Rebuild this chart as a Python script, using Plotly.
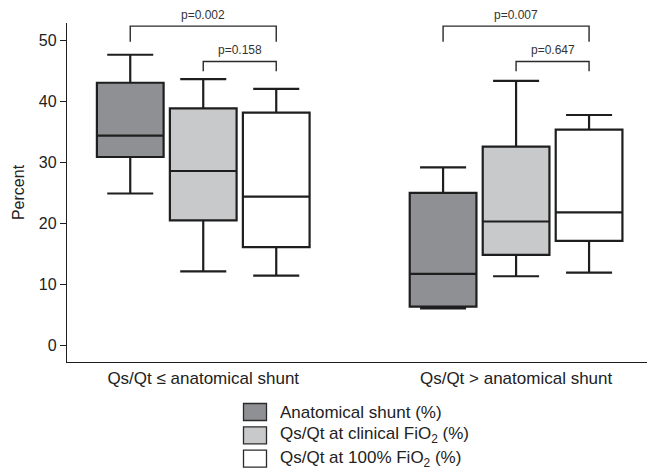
import plotly.graph_objects as go

# ---------------- data ----------------
categories = ["Qs/Qt ≤ anatomical shunt", "Qs/Qt > anatomical shunt"]
series_names = ["Anatomical shunt (%)",
                "Qs/Qt at clinical FiO<sub>2</sub> (%)",
                "Qs/Qt at 100% FiO<sub>2</sub> (%)"]
series_colors = ["#8f9094", "#c8c9cb", "#ffffff"]

# per series: values for [group1, group2]
lower_whisker = [[24.9, 6.0], [12.1, 11.3], [11.4, 11.9]]
q1_values     = [[30.9, 6.3], [20.5, 14.8], [16.1, 17.1]]
medians       = [[34.4, 11.7], [28.6, 20.3], [24.4, 21.8]]
q3_values     = [[43.1, 25.0], [38.9, 32.6], [38.2, 35.4]]
upper_whisker = [[47.7, 29.2], [43.7, 43.4], [42.1, 37.8]]

# significance brackets: (group index, from series, to series, label, level)
p_labels = [(0, 0, 2, "p=0.002", 0), (0, 1, 2, "p=0.158", 1),
            (1, 0, 2, "p=0.007", 0), (1, 1, 2, "p=0.647", 1)]
bracket_top = [52.4, 46.6]
bracket_leg = [49.85, 45.0]

y_ticks = [0, 10, 20, 30, 40, 50]

# ---------------- figure ----------------
FONT = "Liberation Sans, Arial, sans-serif"
BOXGAP = 0.3
GROUPGAP = 0.086
n = len(series_names)

fig = go.Figure()
for i in range(n):
    fig.add_trace(go.Box(
        x=categories,
        q1=q1_values[i], median=medians[i], q3=q3_values[i],
        lowerfence=lower_whisker[i], upperfence=upper_whisker[i],
        name=series_names[i],
        fillcolor=series_colors[i],
        line=dict(color="#1e1e1e", width=2.2),
        whiskerwidth=0.69,
        boxpoints=False,
        showlegend=False,
        hoverinfo="skip",
    ))

slot = (1 - BOXGAP) / n
def box_x(group, series):
    return group + (series - (n - 1) / 2) * slot

shapes = []
annotations = []
for g, a, b, label, lvl in p_labels:
    xa, xb = box_x(g, a), box_x(g, b)
    top, leg = bracket_top[lvl], bracket_leg[lvl]
    shapes.append(dict(type="path", xref="x", yref="y",
                       path=f"M {xa} {leg} L {xa} {top} L {xb} {top} L {xb} {leg}",
                       line=dict(color="#2a2a2a", width=1.4)))
    annotations.append(dict(x=(xa + xb) / 2, y=top, xref="x", yref="y",
                            text=label, showarrow=False, yanchor="bottom",
                            yshift=2,
                            font=dict(family=FONT, size=12, color="#333333")))

# manual legend (paper coords from pixel layout)
W, H = 648, 472
ML, MR, MT, MB = 67, 1, 23, 110
pw, ph = W - ML - MR, H - MT - MB
def px_x(px):
    return (px - ML) / pw
def px_y(py):
    return (H - MB - py) / ph

for i in range(n):
    top = 403.5 + i * 23.3
    shapes.append(dict(type="rect", xref="paper", yref="paper",
                       x0=px_x(243.5), x1=px_x(266.5),
                       y0=px_y(top), y1=px_y(top + 17),
                       fillcolor=series_colors[i],
                       line=dict(color="#2a2a2a", width=1.3)))
    annotations.append(dict(x=px_x(278), y=px_y(top + 8.5), xref="paper", yref="paper",
                            text=series_names[i], showarrow=False,
                            xanchor="left", yanchor="middle",
                            font=dict(family=FONT, size=17, color="#222222")))

fig.update_layout(
    width=W, height=H,
    margin=dict(l=ML, r=MR, t=MT, b=MB),
    boxmode="group", boxgap=BOXGAP, boxgroupgap=GROUPGAP,
    plot_bgcolor="white", paper_bgcolor="white",
    font=dict(family=FONT, size=16, color="#222222"),
    shapes=shapes, annotations=annotations,
    showlegend=False,
)
fig.update_xaxes(
    type="category", range=[-0.4355, 1.4185],
    showline=True, linecolor="#1e1e1e", linewidth=1.4,
    ticks="", showgrid=False, zeroline=False,
    tickfont=dict(family=FONT, size=17, color="#222222"),
)
fig.update_yaxes(
    range=[-2.79, 52.92], tickvals=y_ticks,
    showline=True, linecolor="#1e1e1e", linewidth=1.4,
    ticks="outside", ticklen=6, tickwidth=1.4, tickcolor="#1e1e1e",
    showgrid=False, zeroline=False,
    tickfont=dict(family=FONT, size=16, color="#222222"),
    title=dict(text="Percent", standoff=10,
               font=dict(family=FONT, size=16, color="#222222")),
)

fig.write_html("out.html",
               config={"displayModeBar": False},
               post_script="document.body.style.margin='0';document.body.style.padding='0';")
